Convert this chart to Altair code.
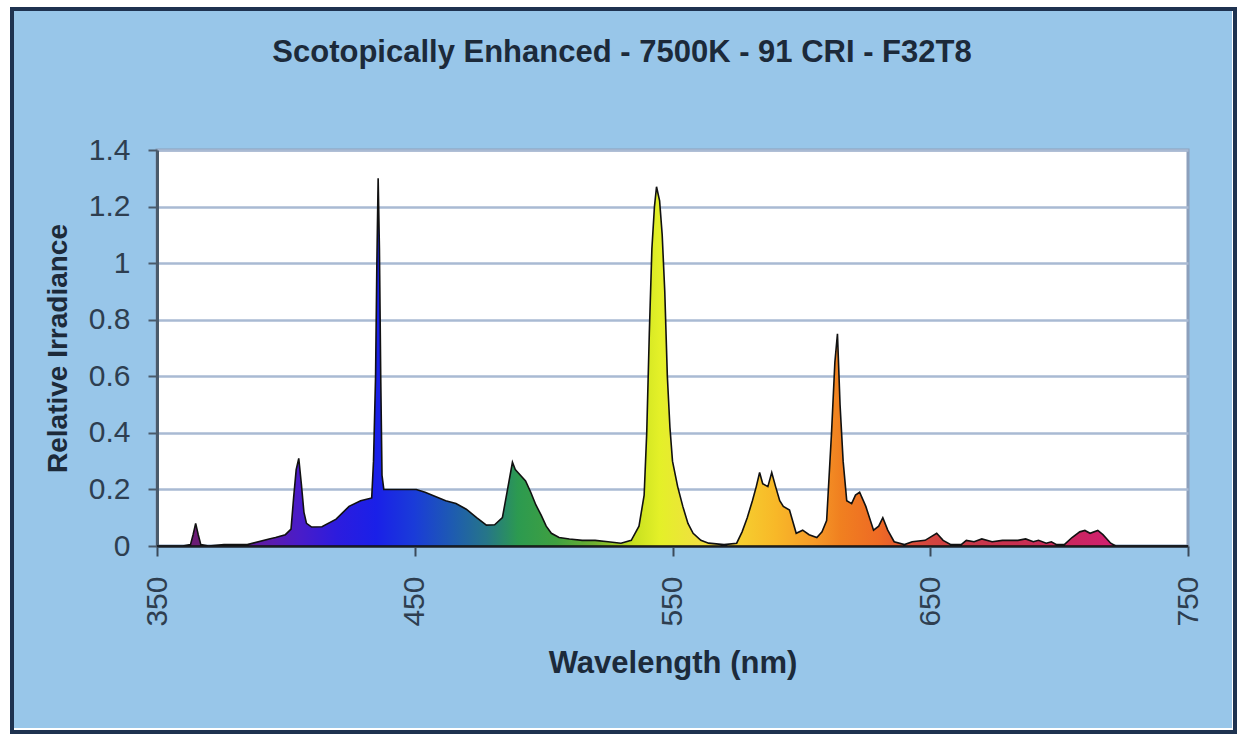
import altair as alt
import pandas as pd

# ---- data ----
title_text = ["Scotopically Enhanced - 7500K - 91 CRI - F32T8"]

wavelength = [350, 360, 363, 364, 365, 366, 367, 370, 376, 385, 393.5, 396, 399.8, 402, 403, 404, 405, 406, 407,
              408, 410, 414, 419.5, 424.5, 429, 433.3, 434, 434.8, 435.3, 435.8, 436.3, 436.8, 437.3, 438,
              445, 450.6, 454, 458, 462, 466, 470, 474, 477.8, 481, 484, 486, 487.9, 489, 491, 493, 495, 497,
              499, 501, 503, 506, 510, 515, 520, 525, 530, 534, 537, 539, 540, 541, 542, 543, 543.8, 545, 546,
              547, 548, 549, 550, 552, 554, 556, 558, 561, 564, 570, 574.9, 577, 579, 581, 582.5, 583.8, 585,
              587, 588.5, 590, 591.6, 593, 595.4, 598, 600.5, 603, 606, 608, 609.8, 611.7, 613, 614, 615,
              616.2, 617.6, 619.5, 621, 622.6, 625, 628, 630, 631.6, 633.5, 636, 640, 643, 648, 652.5, 655,
              658, 662, 664, 667, 670, 674, 678, 684, 687, 690, 692, 695, 697, 699, 702, 705, 708, 710, 712,
              715, 717, 720, 722, 750]
irradiance = [0, 0, 0.005, 0.04, 0.08, 0.04, 0.005, 0, 0.005, 0.005, 0.025, 0.03, 0.04, 0.06, 0.17, 0.27, 0.31,
              0.22, 0.12, 0.08, 0.067, 0.068, 0.095, 0.14, 0.16, 0.17, 0.3, 0.6, 1.0, 1.3, 1.05, 0.6, 0.25, 0.2,
              0.2, 0.2, 0.19, 0.175, 0.16, 0.15, 0.13, 0.1, 0.074, 0.075, 0.1, 0.2, 0.296, 0.27, 0.25, 0.23, 0.19,
              0.145, 0.11, 0.07, 0.045, 0.03, 0.025, 0.02, 0.02, 0.015, 0.01, 0.02, 0.07, 0.18, 0.4, 0.75, 1.05,
              1.2, 1.27, 1.22, 1.1, 0.9, 0.6, 0.42, 0.3, 0.21, 0.14, 0.08, 0.045, 0.02, 0.01, 0.005, 0.01, 0.05,
              0.1, 0.16, 0.21, 0.26, 0.22, 0.21, 0.26, 0.21, 0.16, 0.14, 0.127, 0.045, 0.056, 0.04, 0.03, 0.05,
              0.09, 0.4, 0.65, 0.75, 0.5, 0.3, 0.16, 0.15, 0.18, 0.19, 0.14, 0.056, 0.07, 0.1, 0.056, 0.015,
              0.005, 0.015, 0.02, 0.045, 0.02, 0.005, 0.005, 0.02, 0.015, 0.025, 0.015, 0.02, 0.02, 0.025, 0.015,
              0.02, 0.01, 0.015, 0.005, 0.005, 0.03, 0.05, 0.055, 0.045, 0.055, 0.04, 0.01, 0, 0]

x_ticks = [350, 450, 550, 650, 750]
y_ticks = [0, 0.2, 0.4, 0.6, 0.8, 1.0, 1.2, 1.4]

# spectral colours along the wavelength axis
stop_wl = [350, 370, 395, 405, 420, 435, 450, 465, 478, 490, 505, 520, 535, 545, 560, 575, 590, 605, 615, 630,
           645, 665, 700, 720, 750]
stop_col = ["#6E1C6E", "#6A1C78", "#5A1CB0", "#4A1CC8", "#2C1CDE", "#1A20E8", "#1A3CD8", "#1E5CB0", "#267688",
            "#2C9A50", "#40A040", "#70B030", "#C8E020", "#E4F028", "#F0E040", "#F5D030", "#F8B828", "#F59A28",
            "#F08020", "#EE6A24", "#D84A3C", "#C83848", "#C8285A", "#D02070", "#D02070"]

df = pd.DataFrame({"wl": wavelength, "val": irradiance})
tdf = pd.DataFrame({"t": title_text})

W, H = 1031, 396
PL, PT, PR, PB = 157, 150, 54, 192

font = "Liberation Sans, Arial, sans-serif"
gradient = alt.Gradient(
    gradient="linear",
    stops=[alt.GradientStop(offset=(w - 350) / 400, color=c) for w, c in zip(stop_wl, stop_col)],
    x1=0, x2=1, y1=0, y2=0,
)

x_enc = alt.X("wl:Q", scale=alt.Scale(domain=[350, 750], nice=False, zero=False),
              axis=alt.Axis(values=x_ticks, title="Wavelength (nm)", labelAngle=-90, grid=False,
                            labelFontSize=30, labelFont=font, labelColor="#2E3E50",
                            tickSize=10, tickWidth=2, tickColor="#3A4A5A", labelPadding=20,
                            domainColor="#3A4A5A", domainWidth=3,
                            titleFontSize=31, titleFont=font, titleFontWeight="bold", titleColor="#1C2A3A",
                            titlePadding=22))
y_enc = alt.Y("val:Q", scale=alt.Scale(domain=[0, 1.4], nice=False),
              axis=alt.Axis(values=y_ticks, format="~g", title="Relative Irradiance",
                            labelFontSize=30, labelFont=font, labelColor="#2E3E50",
                            tickSize=9, tickWidth=2, tickColor="#4A5A6A", labelPadding=18,
                            domainColor="#4A5A6A", domainWidth=3,
                            gridColor="#A9BAD3", gridWidth=2.5,
                            titleFontSize=28, titleFont=font, titleFontWeight="bold", titleColor="#1C2A3A",
                            titlePadding=16))

area = alt.Chart(df).mark_area(fill=gradient, stroke="#111111", strokeWidth=1.6, interpolate="linear").encode(
    x=x_enc, y=y_enc
)

outer = alt.Chart(df).mark_rect(fill=None, stroke="white", strokeWidth=20).encode(
    x=alt.value(-PL), x2=alt.value(W + PR), y=alt.value(-PT), y2=alt.value(H + PB)
)
frame = alt.Chart(df).mark_rect(fill=None, stroke="#1F3350", strokeWidth=3).encode(
    x=alt.value(12 - PL), x2=alt.value(1235 - PL), y=alt.value(9 - PT), y2=alt.value(732 - PT)
)
title = alt.Chart(tdf).mark_text(font=font, fontSize=31, fontWeight="bold", color="#1C2A3A",
                                 align="center", baseline="middle").encode(
    text="t:N", x=alt.value(622 - PL), y=alt.value(53 - PT)
)

chart = alt.layer(area, outer, frame, title).properties(
    width=W, height=H,
    padding={"left": PL, "top": PT, "right": PR, "bottom": PB},
    autosize=alt.AutoSizeParams(type="none"),
).configure(background="#98C6E9").configure_view(fill="white", stroke="#8CA0BC", strokeWidth=3)

chart.save("out.html", embed_options={"renderer": "svg", "actions": False})
